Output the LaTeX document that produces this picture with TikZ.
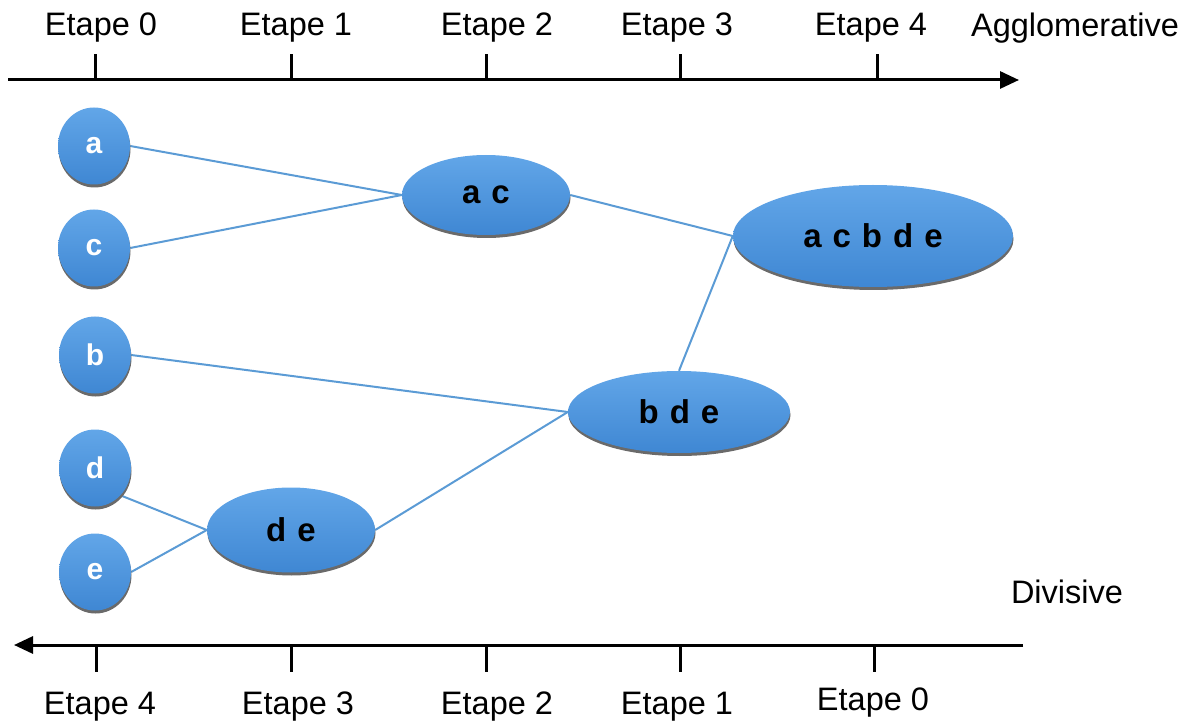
\documentclass[tikz,border=0pt]{standalone}
\usepackage{fontspec}
\setmainfont{Liberation Sans}
\usetikzlibrary{shapes.geometric,arrows.meta,shadows,backgrounds}
\definecolor{nodetop}{HTML}{62A6E8}
\definecolor{nodebot}{HTML}{3F87D3}
\definecolor{linkblue}{HTML}{5B9BD5}
\definecolor{rimgray}{HTML}{6A6A6A}
\tikzset{
  blob/.style={ellipse, inner sep=0pt, top color=nodetop, bottom color=nodebot,
    drop shadow={shadow xshift=0.5pt, shadow yshift=-3pt, fill=rimgray, opacity=1}},
  leaf/.style={blob, minimum width=72pt, minimum height=77pt,
    text=white, font=\fontsize{30}{32}\selectfont\bfseries},
  cluster/.style={blob, text=black, font=\fontsize{33}{36}\selectfont\bfseries},
  link/.style={draw=linkblue, line width=2pt},
  axis/.style={line width=3pt, -{Triangle[length=19pt,width=17pt]}},
  tick/.style={line width=3pt},
  steplabel/.style={font=\fontsize{32.5}{36}\selectfont, inner sep=0pt, anchor=center},
}
\begin{document}
\begin{tikzpicture}[x=1pt,y=-1pt]
\useasboundingbox (0,0) rectangle (1194,727);

% axes
\coordinate (tl) at (8,80);
\coordinate (tr) at (1019,80);
\coordinate (br) at (1023,645);
\coordinate (bl) at (14,645);
\draw[axis] (tl) -- (tr);
\draw[axis] (br) -- (bl);

% top ticks and labels (agglomerative)
\foreach \x/\lx/\n in {95/101/0, 291/296/1, 486/497/2, 680/677/3, 877/871/4}{
  \coordinate (tt\n) at (\x,80);
  \coordinate (tu\n) at (\x,54);
  \draw[tick] (tt\n) -- (tu\n);
  \node[steplabel] (top\n) at (\lx,28) {Etape \n};
}
\node[steplabel] (agg) at (1075,28) {Agglomerative};

% bottom ticks and labels (divisive)
\foreach \x/\lx/\ly/\n in {96/100/707/4, 291/298/707/3, 486/497/707/2, 680/677/707/1, 874/873/703/0}{
  \coordinate (bt\n) at (\x,645);
  \coordinate (bu\n) at (\x,672);
  \draw[tick] (bt\n) -- (bu\n);
  \node[steplabel] (bot\n) at (\lx,\ly) {Etape \n};
}
\node[steplabel] (div) at (1067,592) {Divisive};

% leaves
\node[leaf] (a) at (94,146) {a};
\node[leaf] (c) at (94,248) {c};
\node[leaf] (b) at (95,355) {b};
\node[leaf] (d) at (95,468) {d};
\node[leaf] (e) at (95,572) {e};

% clusters
\node[cluster, minimum width=168pt, minimum height=80pt] (ac) at (486,195) {a\,\,c};
\node[cluster, minimum width=168pt, minimum height=85pt] (de) at (291,530) {d\,\,e};
\node[cluster, minimum width=222pt, minimum height=82pt] (bde) at (679,412) {b\,\,d\,\,e};
\node[cluster, minimum width=280pt, minimum height=102pt] (all) at (873,236) {a\,\,c\,\,b\,\,d\,\,e};

% merges, kept behind the nodes
\begin{scope}[on background layer]
\draw[link] (a.east) -- (ac.west);
\draw[link] (c.east) -- (ac.west);
\draw[link] (ac.east) -- (all.west);
\draw[link] (bde.north) -- (all.west);
\draw[link] (b.east) -- (bde.west);
\draw[link] (de.east) -- (bde.west);
\draw[link] (d.south east) -- (de.west);
\draw[link] (e.east) -- (de.west);
\end{scope}
\end{tikzpicture}
\end{document}
